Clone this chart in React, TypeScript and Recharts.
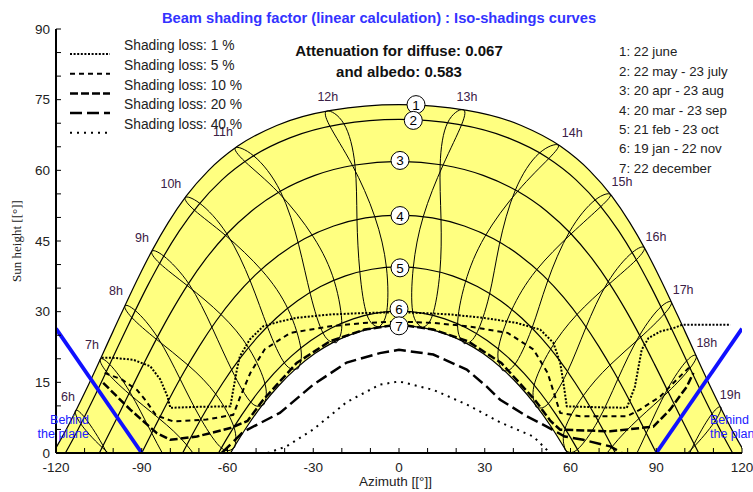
import React from 'react';
import { ComposedChart, Area, Line, Scatter, XAxis, YAxis } from 'recharts';

type Pt = [number, number];

const FONT = '"Liberation Sans", Arial, sans-serif';

// axes
const azTicks = [-120, -110, -100, -90, -80, -70, -60, -50, -40, -30, -20, -10, 0, 10, 20, 30, 40, 50, 60, 70, 80, 90, 100, 110, 120];
const azLabels = [-120, -90, -60, -30, 0, 30, 60, 90, 120];
const altTicks = [0, 5, 10, 15, 20, 25, 30, 35, 40, 45, 50, 55, 60, 65, 70, 75, 80, 85, 90];
const altLabels = [0, 15, 30, 45, 60, 75, 90];

// sun paths [azimuth, height]
const june: Pt[] = [[-121.05, 0], [-117.3, 4.0], [-108.5, 14.66], [-100.0, 25.87], [-91.1, 37.38], [-86.2, 43.17], [-80.75, 48.9], [-74.4, 54.57], [-66.6, 60.0], [-56.53, 65.1], [-42.78, 69.53], [-23.8, 72.73], [0, 73.95], [23.8, 72.73], [42.78, 69.53], [56.53, 65.1], [66.6, 60.0], [74.4, 54.57], [80.75, 48.9], [86.2, 43.17], [91.1, 37.38], [100.0, 25.87], [108.5, 14.66], [117.3, 4.0], [121.05, 0]];
const mayJul: Pt[] = [[-116.72, 0], [-114.98, 1.91], [-105.93, 12.75], [-97.13, 24.08], [-87.84, 35.63], [-82.68, 41.4], [-76.91, 47.09], [-70.19, 52.64], [-62.03, 57.93], [-51.69, 62.78], [-38.19, 66.88], [-20.71, 69.75], [0, 70.8], [20.71, 69.75], [38.19, 66.88], [51.69, 62.78], [62.03, 57.93], [70.19, 52.64], [76.91, 47.09], [82.68, 41.4], [87.84, 35.63], [97.13, 24.08], [105.93, 12.75], [114.98, 1.91], [116.72, 0]];
const aprAug: Pt[] = [[-104.84, 0], [-98.84, 7.23], [-89.46, 18.76], [-84.57, 24.54], [-79.37, 30.27], [-73.72, 35.9], [-67.41, 41.35], [-60.17, 46.54], [-51.67, 51.33], [-41.53, 55.55], [-29.43, 58.92], [-15.36, 61.13], [0, 61.9], [15.36, 61.13], [29.43, 58.92], [41.53, 55.55], [51.67, 51.33], [60.17, 46.54], [67.41, 41.35], [73.72, 35.9], [79.37, 30.27], [84.57, 24.54], [89.46, 18.76], [98.84, 7.23], [104.84, 0]];
const marSep: Pt[] = [[-90, 0], [-85.21, 5.78], [-80.33, 11.52], [-75.24, 17.18], [-69.83, 22.69], [-63.98, 28.02], [-57.54, 33.07], [-50.34, 37.75], [-42.23, 41.93], [-33.07, 45.47], [-22.84, 48.18], [-11.69, 49.9], [0, 50.5], [11.69, 49.9], [22.84, 48.18], [33.07, 45.47], [42.23, 41.93], [50.34, 37.75], [57.54, 33.07], [63.98, 28.02], [69.83, 22.69], [75.24, 17.18], [80.33, 11.52], [85.21, 5.78], [90, 0]];
const febOct: Pt[] = [[-75.68, 0], [-71.96, 4.28], [-66.93, 9.7], [-61.61, 14.91], [-55.9, 19.86], [-49.69, 24.47], [-42.92, 28.65], [-35.5, 32.31], [-27.42, 35.34], [-18.71, 37.6], [-9.49, 39.01], [0, 39.5], [9.49, 39.01], [18.71, 37.6], [27.42, 35.34], [35.5, 32.31], [42.92, 28.65], [49.69, 24.47], [55.9, 19.86], [61.61, 14.91], [66.93, 9.7], [71.96, 4.28], [75.68, 0]];
const janNov: Pt[] = [[-63.14, 0], [-60.14, 3.16], [-55.06, 8.04], [-49.64, 12.63], [-43.83, 16.84], [-37.56, 20.62], [-30.83, 23.87], [-23.63, 26.52], [-16.02, 28.48], [-8.1, 29.69], [0, 30.1], [8.1, 29.69], [16.02, 28.48], [23.63, 26.52], [30.83, 23.87], [37.56, 20.62], [43.83, 16.84], [49.64, 12.63], [55.06, 8.04], [60.14, 3.16], [63.14, 0]];
const december: Pt[] = [[-58.95, 0], [-52.99, 5.79], [-47.7, 10.25], [-42.03, 14.33], [-35.96, 17.97], [-29.45, 21.1], [-22.53, 23.64], [-15.25, 25.51], [-7.7, 26.66], [0, 27.05], [7.7, 26.66], [15.25, 25.51], [22.53, 23.64], [29.45, 21.1], [35.96, 17.97], [42.03, 14.33], [47.7, 10.25], [52.99, 5.79], [58.95, 0]];
const datePaths = [june, mayJul, aprAug, marSep, febOct, janNov, december];

// hour loops: dec -> jun (first half year) -> dec (second half)
const h06: Pt[] = [[-75.5, -19.9], [-80.2, -20.7], [-88.4, -15.4], [-96.1, -7.3], [-103.6, 1.6], [-110.2, 7.7], [-113.2, 9.0], [-111.4, 6.25], [-103.9, 1.2], [-93.6, -4.2], [-83.7, -9.7], [-76.3, -15.8], [-75.5, -19.9]];
const h07: Pt[] = [[-66.8, -9.0], [-71.3, -9.6], [-78.9, -4.0], [-86.5, 4.2], [-94.2, 13.0], [-101.2, 18.8], [-104.5, 19.9], [-102.4, 17.3], [-94.5, 12.6], [-83.9, 7.3], [-74.2, 1.65], [-67.4, -4.9], [-66.8, -9.0]];
const h08: Pt[] = [[-57.5, 1.2], [-62.0, 1.0], [-69.2, 7.1], [-76.5, 15.6], [-84.4, 24.5], [-92.2, 30.2], [-95.9, 31.2], [-93.4, 28.7], [-84.8, 24.1], [-73.7, 18.6], [-64.0, 12.4], [-57.7, 5.4], [-57.5, 1.2]];
const h09: Pt[] = [[-47.2, 10.3], [-51.7, 10.7], [-58.4, 17.5], [-65.3, 26.5], [-73.4, 35.8], [-82.3, 41.8], [-86.5, 42.8], [-83.7, 40.25], [-73.8, 35.4], [-62.1, 29.3], [-52.5, 22.2], [-46.8, 14.5], [-47.2, 10.3]];
const h10: Pt[] = [[-35.3, 17.9], [-39.9, 18.95], [-45.9, 26.6], [-51.9, 36.3], [-60.2, 46.5], [-69.7, 53.0], [-74.8, 54.2], [-71.5, 51.5], [-60.7, 46.2], [-47.9, 38.7], [-38.8, 30.5], [-34.3, 22.0], [-35.3, 17.9]];
const h11: Pt[] = [[-21.9, 23.4], [-26.4, 25.25], [-31.0, 33.7], [-35.1, 44.2], [-41.5, 55.55], [-50.8, 63.05], [-57.2, 64.8], [-53.8, 61.8], [-42.2, 55.3], [-30.0, 45.9], [-22.6, 36.4], [-20.0, 27.25], [-21.9, 23.4]];
const h12: Pt[] = [[-7.1, 26.7], [-11.2, 29.3], [-13.7, 38.5], [-14.7, 49.6], [-15.4, 61.1], [-19.3, 69.9], [-25.1, 72.6], [-24.2, 69.4], [-16.3, 61.05], [-8.5, 50.2], [-4.4, 39.4], [-4.3, 30.0], [-7.1, 26.7]];
const h13: Pt[] = [[8.1, 26.6], [4.8, 29.95], [5.0, 39.4], [8.5, 50.2], [15.4, 61.1], [21.9, 69.7], [22.3, 72.9], [17.0, 70.1], [14.4, 61.2], [14.7, 49.6], [14.3, 38.4], [11.7, 29.2], [8.1, 26.6]];
const h14: Pt[] = [[22.8, 23.2], [20.5, 27.1], [23.2, 36.2], [30.0, 45.9], [41.5, 55.55], [52.4, 62.5], [55.6, 65.4], [49.0, 63.6], [40.7, 55.8], [35.1, 44.2], [31.6, 33.5], [26.9, 25.1], [22.8, 23.2]];
const h15: Pt[] = [[36.2, 17.5], [34.7, 21.8], [39.3, 30.2], [47.9, 38.7], [60.2, 46.5], [70.6, 52.3], [73.9, 54.9], [68.6, 53.7], [59.6, 46.9], [51.9, 36.3], [46.4, 26.3], [40.4, 18.7], [36.2, 17.5]];
const h16: Pt[] = [[47.9, 9.8], [47.2, 14.2], [52.9, 21.9], [62.1, 29.3], [73.4, 35.8], [83.0, 41.0], [85.8, 43.6], [81.5, 42.5], [73.0, 36.2], [65.3, 26.5], [58.8, 17.1], [52.1, 10.4], [47.9, 9.8]];
const h17: Pt[] = [[58.2, 0.6], [58.0, 5.0], [64.4, 12.1], [73.7, 18.6], [84.4, 24.5], [92.8, 29.5], [95.3, 32.0], [91.6, 31.0], [84.1, 24.9], [76.5, 15.6], [69.6, 6.8], [62.3, 0.7], [58.2, 0.6]];
const h18: Pt[] = [[67.4, -9.7], [67.7, -5.2], [74.5, 1.3], [83.9, 7.3], [94.2, 13.0], [101.8, 18.0], [104.0, 20.6], [100.7, 19.6], [93.8, 13.4], [86.5, 4.2], [79.3, -4.4], [71.6, -9.9], [67.4, -9.7]];
const h19: Pt[] = [[76.0, -20.6], [76.6, -16.2], [84.0, -10.1], [93.6, -4.2], [103.6, 1.6], [110.8, 7.0], [112.6, 9.7], [109.6, 8.4], [103.3, 2.0], [96.1, -7.3], [88.7, -15.8], [80.4, -21.1], [76.0, -20.6]];
const hourLoops = [h06, h07, h08, h09, h10, h11, h12, h13, h14, h15, h16, h17, h18, h19];

// iso-shading curves
const iso1: Pt[] = [[-104, 20.2], [-100, 20.2], [-93, 19.8], [-87, 18.4], [-83.5, 15.6], [-81, 12], [-80, 9.6], [-70, 9.8], [-59, 9.9], [-58, 13.4], [-56.7, 17.7], [-55.7, 20.5], [-52.2, 24.1], [-47.5, 26.9], [-41.7, 27.9], [-35.8, 28.7], [-24.2, 29.4], [-12.5, 29.7], [0, 29.9], [12, 29.6], [18, 29.4], [29.5, 28.7], [41.2, 27.6], [49.4, 26.2], [54, 23.4], [56.4, 19.1], [57.5, 15], [58.7, 9.9], [70, 9.7], [79.7, 9.6], [82.5, 14], [84.9, 21.9], [87.3, 24.4], [91.4, 25.8], [96, 26.5], [99, 27.2], [116, 27.2]];
const iso5: Pt[] = [[-103, 17], [-97, 15.6], [-91.7, 13.4], [-88.8, 11.3], [-85, 8], [-79, 6.7], [-67.4, 7.1], [-58, 8.1], [-55.5, 12], [-52, 17], [-47, 22], [-38, 25.5], [-24, 26.9], [-12.5, 27.6], [0, 27.9], [12.5, 27.6], [24, 26.9], [38, 25.5], [47, 22], [52, 17], [56.4, 8.5], [63.4, 7.8], [79.7, 7.8], [84.3, 9.2], [91.4, 12], [97.2, 15.6], [101.9, 18.4]];
const iso10: Pt[] = [[-103.5, 14.9], [-94, 9.2], [-84.7, 4.2], [-80, 2.8], [-70.7, 3.5], [-59, 5.3], [-53, 6.8], [-47.5, 11.3], [-35.8, 19.1], [-24.2, 23.7], [-12, 26.2], [0, 27.3], [12, 26.2], [24.2, 23.7], [35.8, 19.1], [47.5, 11.3], [53, 6.8], [56.4, 4.95], [73.9, 4.6], [89, 5.6], [94.8, 9.2], [100.7, 14.1], [103, 17]];
const iso20: Pt[] = [[-62, 0], [-54.5, 4.5], [-41.7, 8.5], [-30, 14.5], [-18.3, 19.2], [-6.7, 21.2], [0, 21.9], [12, 20.9], [23.7, 17.7], [30.7, 14.1], [35.4, 11.3], [44.7, 7.8], [51.7, 5.6], [58, 3.5], [64.4, 2.8], [73.9, 1.4], [78, 0]];
const iso40: Pt[] = [[-46, 0], [-39.4, 1.4], [-30, 5], [-18.3, 10.8], [-6.7, 14.5], [0, 15.2], [12, 13.4], [23.7, 10.3], [35.4, 6.5], [47, 3.5], [52, 0.5]];
const isoCurves = [iso1, iso5, iso10, iso20, iso40];
const isoNames = ['Shading loss: 1 %', 'Shading loss: 5 %', 'Shading loss: 10 %', 'Shading loss: 20 %', 'Shading loss: 40 %'];
const isoDash = ['2 1.6', '5 4', '8 3', '12 5', '2 5'];
const isoWidth = [2, 2, 2.5, 2.5, 2];

const behindLeft: Pt[] = [[-120, 26.4], [-90, 0]];
const behindRight: Pt[] = [[90, 0], [120, 26.4]];

const hourLabels = [
  { az: -115.8, alt: 11.9, text: '6h' }, { az: -107.4, alt: 23.0, text: '7h' },
  { az: -99.0, alt: 34.3, text: '8h' }, { az: -89.9, alt: 45.7, text: '9h' },
  { az: -79.8, alt: 57.2, text: '10h' }, { az: -61.6, alt: 68.2, text: '11h' },
  { az: -24.9, alt: 75.6, text: '12h' }, { az: 23.8, alt: 75.6, text: '13h' },
  { az: 60.6, alt: 68.0, text: '14h' }, { az: 78.0, alt: 57.6, text: '15h' },
  { az: 89.9, alt: 45.9, text: '16h' }, { az: 99.4, alt: 34.6, text: '17h' },
  { az: 107.7, alt: 23.4, text: '18h' }, { az: 115.9, alt: 12.4, text: '19h' },
];
const dateMarks = [
  { az: 5.95, alt: 73.95, n: '1' }, { az: 5.0, alt: 70.6, n: '2' }, { az: 0.35, alt: 62.1, n: '3' },
  { az: 0.35, alt: 50.4, n: '4' }, { az: 0.35, alt: 39.3, n: '5' }, { az: 0, alt: 30.6, n: '6' },
  { az: 0, alt: 27, n: '7' },
];
const dateNames = ['1: 22 june', '2: 22 may - 23 july', '3: 20 apr - 23 aug', '4: 20 mar - 23 sep', '5: 21 feb - 23 oct', '6: 19 jan - 22 nov', '7: 22 december'];

const rows = (pts: Pt[]) => pts.map(([az, alt]) => ({ az, alt }));

const HourLabel = (p: any) => (
  <text x={p.cx} y={p.cy} textAnchor="middle" dominantBaseline="central" fontSize={12.5} fontFamily={FONT} fill="#3b2046">
    {p.payload.text}
  </text>
);

const DateMark = (p: any) => (
  <g>
    <circle cx={p.cx} cy={p.cy} r={9} fill="#fff" stroke="#000" strokeWidth={1} />
    <text x={p.cx} y={p.cy + 0.5} textAnchor="middle" dominantBaseline="central" fontSize={13.5} fontFamily={FONT} fill="#000">
      {p.payload.n}
    </text>
  </g>
);

const abs = (left: number, top: number, extra: React.CSSProperties = {}): React.CSSProperties => ({
  position: 'absolute', left, top, whiteSpace: 'nowrap', lineHeight: 1, ...extra,
});

export default function App() {
  const tickStyle = { fontSize: 13.5, fill: '#222', fontFamily: FONT };
  return (
    <div style={{ position: 'absolute', left: 0, top: 0, width: 753, height: 492, overflow: 'hidden', background: '#fff', fontFamily: FONT }}>
      <ComposedChart width={753} height={492} margin={{ top: 29, right: 11, bottom: 0, left: 0 }}>
        <Area data={rows(june)} dataKey="alt" type="monotone" fill="#ffff80" fillOpacity={1} stroke="none" isAnimationActive={false} />
        <Area data={rows(december)} dataKey="alt" type="monotone" fill="#ffffff" fillOpacity={1} stroke="none" isAnimationActive={false} />
        {hourLoops.map((h, i) => (
          <Line key={'h' + i} data={rows(h)} dataKey="alt" type="natural" stroke="#000" strokeWidth={1} dot={false} activeDot={false} isAnimationActive={false} />
        ))}
        {datePaths.map((d, i) => (
          <Line key={'d' + i} data={rows(d)} dataKey="alt" type="monotone" stroke="#000" strokeWidth={1.2} dot={false} activeDot={false} isAnimationActive={false} />
        ))}
        {isoCurves.map((c, i) => (
          <Line key={'i' + i} data={rows(c)} dataKey="alt" type="linear" stroke="#000" strokeWidth={isoWidth[i]} strokeDasharray={isoDash[i]} dot={false} activeDot={false} isAnimationActive={false} />
        ))}
        <Line data={rows(behindLeft)} dataKey="alt" type="linear" stroke="#1010ff" strokeWidth={3.8} dot={false} activeDot={false} isAnimationActive={false} />
        <Line data={rows(behindRight)} dataKey="alt" type="linear" stroke="#1010ff" strokeWidth={3.8} dot={false} activeDot={false} isAnimationActive={false} />
        <XAxis type="number" dataKey="az" domain={[-120, 120]} ticks={azTicks} interval={0} allowDataOverflow
          height={39} tickSize={-5} tickMargin={14} tick={tickStyle}
          tickFormatter={(v: number) => (azLabels.includes(v) ? String(v) : '')}
          axisLine={{ stroke: '#000', strokeWidth: 2 }} tickLine={{ stroke: '#000' }} />
        <YAxis type="number" dataKey="alt" domain={[0, 90]} ticks={altTicks} interval={0} allowDataOverflow
          width={56} tickSize={-5} tickMargin={11} tick={tickStyle}
          tickFormatter={(v: number) => (altLabels.includes(v) ? String(v) : '')}
          axisLine={{ stroke: '#000', strokeWidth: 2 }} tickLine={{ stroke: '#000' }} />
        <XAxis xAxisId="top" orientation="top" type="number" domain={[-120, 120]} ticks={azTicks} interval={0}
          height={0} tickSize={-5} tick={false} axisLine={{ stroke: '#000', strokeWidth: 2 }} tickLine={{ stroke: '#000' }} />
        <YAxis yAxisId="right" orientation="right" type="number" domain={[0, 90]} ticks={altTicks} interval={0}
          width={0} tickSize={-5} tick={false} axisLine={{ stroke: '#000', strokeWidth: 2 }} tickLine={{ stroke: '#000' }} />
        <Scatter data={hourLabels} dataKey="alt" shape={HourLabel} isAnimationActive={false} />
        <Scatter data={dateMarks} dataKey="alt" shape={DateMark} isAnimationActive={false} />
      </ComposedChart>

      <div style={abs(0, 11, { width: 758, textAlign: 'center', color: '#3333ff', fontWeight: 'bold', fontSize: 14.7 })}>
        Beam shading factor (linear calculation) : Iso-shadings curves
      </div>
      <div style={abs(0, 42.5, { width: 798, textAlign: 'center', fontWeight: 'bold', fontSize: 15, color: '#111' })}>
        Attenuation for diffuse: 0.067
      </div>
      <div style={abs(0, 63.5, { width: 798, textAlign: 'center', fontWeight: 'bold', fontSize: 15, color: '#111' })}>
        and albedo: 0.583
      </div>

      <svg width={120} height={150} style={{ position: 'absolute', left: 0, top: 0 }}>
        {isoNames.map((_, i) => (
          <line key={i} x1={70} x2={110} y1={54 + i * 19.7} y2={54 + i * 19.7} stroke="#000" strokeWidth={isoWidth[i]} strokeDasharray={isoDash[i]} />
        ))}
      </svg>
      {isoNames.map((n, i) => (
        <div key={n} style={abs(124, 39.1 + i * 19.7, { fontSize: 13.8, color: '#222' })}>{n}</div>
      ))}
      {dateNames.map((n, i) => (
        <div key={n} style={abs(619, 45.3 + i * 19.4, { fontSize: 13.3, color: '#222' })}>{n}</div>
      ))}

      <div style={abs(0, 414, { width: 89, textAlign: 'right', fontSize: 12.5, color: '#2020ff' })}>Behind</div>
      <div style={abs(0, 428, { width: 89, textAlign: 'right', fontSize: 12.5, color: '#2020ff' })}>the plane</div>
      <div style={abs(710, 414, { fontSize: 12.5, color: '#2020ff' })}>Behind</div>
      <div style={abs(710, 428, { fontSize: 12.5, color: '#2020ff' })}>the plane</div>

      <div style={abs(0, 475, { width: 791, textAlign: 'center', fontSize: 13.5, color: '#222' })}>Azimuth [[°]]</div>
      <div style={abs(16, 241, { fontSize: 13, color: '#222', fontFamily: '"Liberation Serif", serif', transform: 'translate(-50%, -50%) rotate(-90deg)' })}>
        Sun height [[°]]
      </div>
    </div>
  );
}
